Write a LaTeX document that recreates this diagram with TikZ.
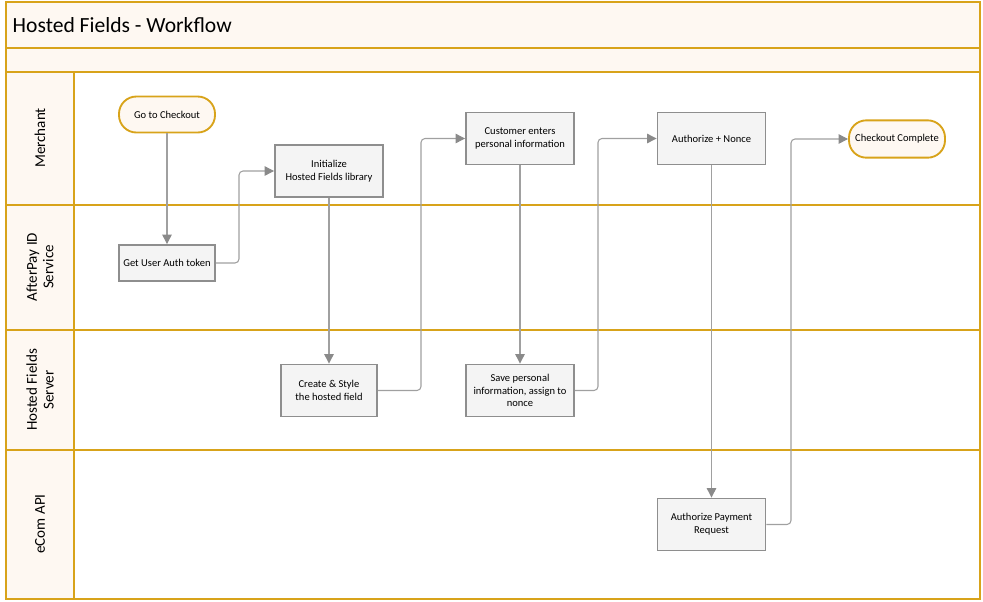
\documentclass[tikz,border=0pt]{standalone}
\usepackage{fontspec}
\setmainfont{Carlito}
\usepackage{tikz}
\usetikzlibrary{arrows.meta}

\definecolor{lanegold}{HTML}{D8A31A}
\definecolor{lanecream}{HTML}{FEF8F2}
\definecolor{boxgrey}{HTML}{8E8E8E}
\definecolor{boxfill}{HTML}{F4F4F4}
\definecolor{flowgrey}{HTML}{A0A0A0}
\definecolor{tipgrey}{HTML}{8A8A8A}

\tikzset{
  proc/.style={rectangle, draw=boxgrey, line width=1.4pt, fill=boxfill, minimum width=72pt, minimum height=39pt, inner sep=1pt, align=center, font=\fontsize{7.9}{9.6}\selectfont},
  term/.style={rectangle, rounded corners=13pt, draw=lanegold, line width=1.4pt, fill=lanecream, minimum width=72pt, minimum height=27pt, inner sep=1pt, align=center, font=\fontsize{7.9}{9.6}\selectfont},
  flow/.style={draw=flowgrey, line width=0.8pt, rounded corners=3pt, -{Triangle[length=7pt,width=7pt,color=tipgrey]}},
  lane/.style={draw=lanegold, line width=1.5pt},
  lanelabel/.style={rotate=90, align=center, font=\fontsize{11.3}{12.5}\selectfont}
}

\begin{document}
\begin{tikzpicture}[x=0.75pt, y=-0.75pt]
            \useasboundingbox (0,0) rectangle (983,601);

            % Lanes
            \fill[lanecream] (6,2) rectangle (980,72);
            \fill[lanecream] (6,72) rectangle (74,599);
            \draw[lane] (6,2) rectangle (980,599);
            \draw[lane] (6,48) -- (980,48);
            \draw[lane] (6,72) -- (980,72);
            \draw[lane] (6,205) -- (980,205);
            \draw[lane] (6,330) -- (980,330);
            \draw[lane] (6,450) -- (980,450);
            \draw[lane] (74,72) -- (74,599);

            \node[anchor=west, font=\fontsize{16.2}{19}\selectfont] (title) at (8,25) {Hosted Fields - Workflow};
            \node[lanelabel] (m) at (40,138) {Merchant};
            \node[lanelabel] (a) at (40,267) {AfterPay ID\\Service};
            \node[lanelabel] (h) at (40,390) {Hosted Fields\\Server};
            \node[lanelabel] (e) at (40,524) {eCom API};

            % Nodes
            \node[term] (1) at (167,114.5) {Go to Checkout};
            \node[proc, minimum height=27pt] (2) at (167,263) {Get User Auth token};
            \node[proc, minimum width=81pt] (3) at (329,171) {Initialize\\Hosted Fields library};
            \node[proc] (4) at (329,390.5) {Create \& Style\\the hosted field};
            \node[proc, minimum width=81pt] (5) at (520,138.5) {Customer enters\\personal information};
            \node[proc, minimum width=81pt] (6) at (520,390.5) {Save personal\\information, assign to\\nonce};
            \node[proc, minimum width=81pt] (7) at (711.5,138.5) {Authorize + Nonce};
            \node[proc, minimum width=81pt] (8) at (711.5,524.5) {Authorize Payment\\Request};
            \node[term, minimum height=28pt] (9) at (897,139) {Checkout Complete};

            % Lines
            \draw[flow] (1) -- (2);
            \draw[flow] (2.east) -- (239,263) -- (239,171) -- (3.west);
            \draw[flow] (3) -- (4);
            \draw[flow] (4.east) -- (421,390.5) -- (421,138.5) -- (5.west);
            \draw[flow] (5) -- (6);
            \draw[flow] (6.east) -- (598,390.5) -- (598,138.5) -- (7.west);
            \draw[flow] (7) -- (8);
            \draw[flow] (8.east) -- (791,524.5) -- (791,139) -- (9.west);

        \end{tikzpicture}
\end{document}
